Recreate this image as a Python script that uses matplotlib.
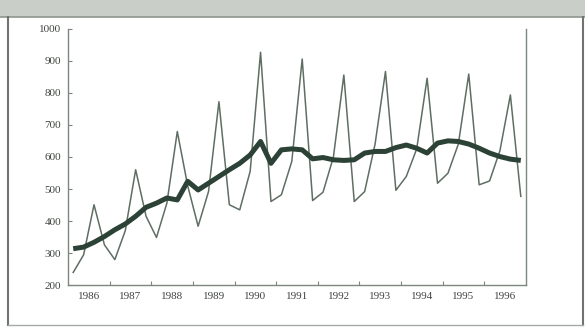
import matplotlib

matplotlib.use("Agg")
import matplotlib.pyplot as plt
import numpy as np
from matplotlib.patches import Rectangle
from matplotlib.lines import Line2D

# quarterly series, 1986 Q1 .. 1996 Q4
years = list(range(1986, 1997))
actual = [
    240, 295, 451, 326,
    280, 370, 560, 415,
    349, 456, 679, 510,
    384, 492, 772, 451,
    435, 555, 926, 461,
    482, 586, 905, 464,
    490, 600, 855, 461,
    492, 640, 866, 496,
    539, 625, 845, 518,
    549, 640, 858, 513,
    525, 620, 793, 477,
]
trend = [
    314, 319, 334, 352,
    373, 391, 415, 443,
    456, 472, 466, 524,
    497, 518, 539, 560,
    580, 606, 648, 580,
    622, 625, 622, 594,
    598, 591, 589, 591,
    612, 617, 617, 629,
    637, 627, 612, 643,
    650, 648, 640, 627,
    612, 601, 593, 589,
]
y_ticks = [200, 300, 400, 500, 600, 700, 800, 900, 1000]

x = np.array([y + (q + 0.5) / 4 for y in years for q in range(4)])

plt.rcParams["font.family"] = ["Liberation Serif", "DejaVu Serif"]
fig = plt.figure(figsize=(5.85, 3.27), dpi=100)
fig.patch.set_facecolor("white")

# scanned page frame: grey band on top, thin borders
band_h = 17 / 327
fig.patches.append(Rectangle((0, 1 - band_h), 1, band_h, transform=fig.transFigure,
                             facecolor="#c9cec9", edgecolor="none", zorder=0))
fig.lines.append(Line2D([0, 1], [1 - band_h] * 2, transform=fig.transFigure,
                        color="#8f968f", lw=1.2))
fig.lines.append(Line2D([8 / 585] * 2, [0.005, 1 - band_h], transform=fig.transFigure,
                        color="#6f746f", lw=1.5))
fig.lines.append(Line2D([583 / 585] * 2, [0.005, 1 - band_h], transform=fig.transFigure,
                        color="#6f746f", lw=1.5))
fig.lines.append(Line2D([8 / 585, 583 / 585], [2 / 327] * 2, transform=fig.transFigure,
                        color="#a4aaa4", lw=1.0))

ax = fig.add_axes([68 / 585, 1 - 285.3 / 327, 458 / 585, (285.3 - 28.5) / 327])
ax.set_facecolor("none")

ax.plot(x, actual, color="#5f6e63", lw=1.1, zorder=2)
ax.plot(x, trend, color="#2c4236", lw=3.6, solid_capstyle="butt", solid_joinstyle="round",
        zorder=3)

ax.set_xlim(1986, 1997)
ax.set_ylim(200, 1000)

axis_col = "#7c887f"
for side in ("left", "bottom", "right"):
    ax.spines[side].set_color(axis_col)
    ax.spines[side].set_linewidth(1.0)
ax.spines["top"].set_visible(False)

ax.set_yticks(y_ticks)
ax.set_yticklabels([str(v) for v in y_ticks])
ax.set_xticks([y + 0.5 for y in years])
ax.set_xticklabels([str(y) for y in years])
ax.set_xticks([y for y in years[1:]], minor=True)

ax.tick_params(axis="y", direction="in", length=3, width=0.8, color=axis_col,
               labelsize=8, labelcolor="#3f443f", pad=5)
ax.tick_params(axis="x", which="major", length=0, labelsize=8,
               labelcolor="#3f443f", pad=5)
ax.tick_params(axis="x", which="minor", direction="in", length=3, width=0.8,
               color=axis_col)
ax.tick_params(right=False)

fig.savefig("out.png", dpi=100)
